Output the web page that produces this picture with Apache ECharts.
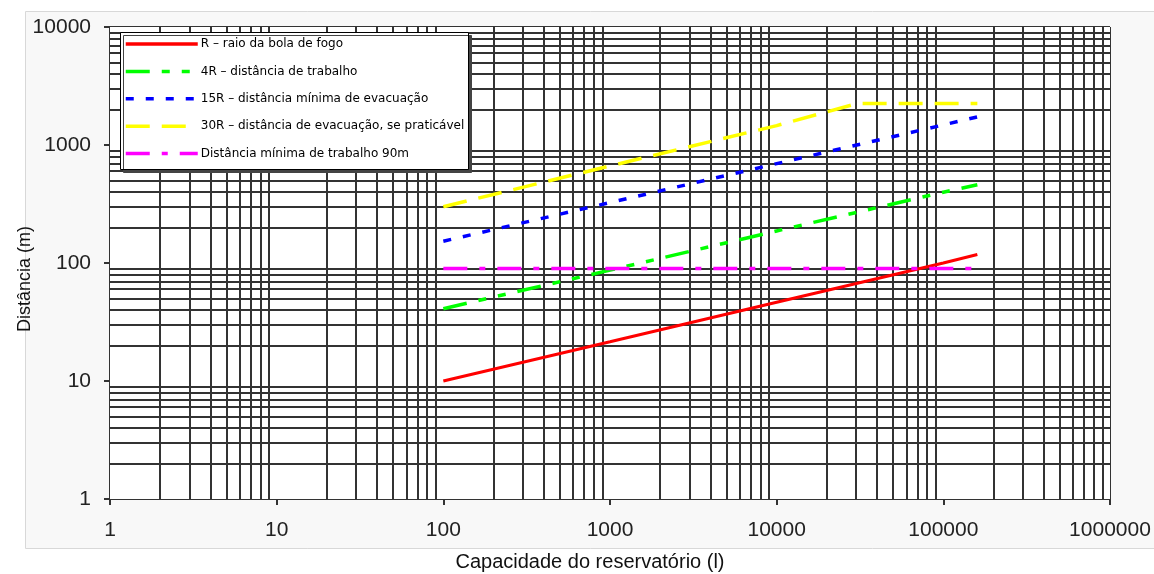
<!DOCTYPE html>
<html>
<head>
<meta charset="utf-8">
<script src="https://cdn.jsdelivr.net/npm/echarts@6/dist/echarts.min.js"></script>
<style>html,body{margin:0;padding:0;background:#fff}#c{width:1154px;height:574px}</style>
</head>
<body>
<div id="c"></div>
<script>
// ---- data ----
const capacidade = [100, 1000, 10000, 100000, 160000];        // litres
const raioR      = [10, 21.5, 46.5, 100, 118];                // R
const dist4R     = [41, 87, 187, 398, 460];                   // 4R
const dist15R    = [153, 325, 695, 1480, 1730];               // 15R
const cap30R     = [100, 1000, 10000, 30500, 160000];
const dist30R    = [300, 665, 1460, 2250, 2250];              // 30R (capped)
const dist90     = [90, 90, 90, 90, 90];                      // minimum 90 m

const seriesNames = [
  'R – raio da bola de fogo',
  '4R – distância de trabalho',
  '15R – distância mínima de evacuação',
  '30R – distância de evacuação, se praticável',
  'Distância mínima de trabalho 90m'
];
const xTickLabels = ['1','10','100','1000','10000','100000','1000000'];
const yTickLabels = ['1','10','100','1000','10000'];
const xMinorDecades = [1, 10, 100, 1000, 10000, 100000];
const yMinorDecades = [1, 10, 100, 1000];
const minorMult = [2, 3, 4, 5, 6, 7, 8, 9];

const pairs = (xs, ys) => xs.map((x, i) => [x, ys[i]]);

const minorX = [];
xMinorDecades.forEach(d => minorMult.forEach(m => minorX.push({ xAxis: d * m })));
const minorY = [];
yMinorDecades.forEach(d => minorMult.forEach(m => minorY.push({ yAxis: d * m })));

const chart = echarts.init(document.getElementById('c'), null, { renderer: 'canvas' });

const FONT = 'Liberation Sans, Arial, sans-serif';
const GRID_COLOR = '#333';
const GRID_W = 2;

chart.setOption({
  backgroundColor: '#ffffff',
  animation: false,
  grid: {
    left: 110, right: 44, top: 27, bottom: 75,
    show: true, backgroundColor: '#ffffff', borderWidth: 0, z: 1
  },
  graphic: [
    { type: 'rect', z: -100, silent: true,
      shape: { x: 25.5, y: 11.5, width: 1150, height: 537 },
      style: { fill: '#f8f8f8', stroke: '#d8d8d8', lineWidth: 1 } },
    { type: 'rect', z: 50, silent: true,
      shape: { x: 120.5, y: 32.5, width: 348, height: 137 },
      style: { fill: '#ffffff', stroke: '#000', lineWidth: 1,
               shadowColor: '#444', shadowOffsetX: 3, shadowOffsetY: 3, shadowBlur: 0 } },
    { type: 'text', z: 50, silent: true, x: 25, y: 279, rotation: Math.PI / 2,
      style: { text: 'Distância (m)', font: '18px ' + FONT, fill: '#111',
               textAlign: 'center', textVerticalAlign: 'middle' } },
    { type: 'text', z: 50, silent: true, x: 590, y: 562,
      style: { text: 'Capacidade do reservatório (l)', font: '20px ' + FONT, fill: '#111',
               textAlign: 'center', textVerticalAlign: 'middle' } }
  ],
  legend: {
    z: 60,
    orient: 'vertical',
    left: 124, top: 37,
    padding: 0,
    itemWidth: 72, itemHeight: 14, itemGap: 13.4,
    itemStyle: { opacity: 0 },
    lineStyle: { width: 3.5, cap: 'butt' },
    data: seriesNames,
    textStyle: { fontFamily: 'DejaVu Sans', fontSize: 12, color: '#000', padding: [0, 0, 0, -2],
                 lineHeight: 14, height: 14 }
  },
  xAxis: {
    type: 'log', logBase: 10, min: 1, max: 1000000,
    axisLine: { show: true, lineStyle: { color: GRID_COLOR, width: GRID_W } },
    axisTick: { show: true, length: 6, inside: false, lineStyle: { color: GRID_COLOR, width: GRID_W } },
    axisLabel: {
      margin: 21, color: '#222', fontFamily: FONT, fontSize: 21,
      formatter: v => xTickLabels[Math.round(Math.log10(v))] || String(Math.round(v))
    },
    splitLine: { show: true, lineStyle: { color: GRID_COLOR, width: GRID_W } },
    minorTick: { show: false }, minorSplitLine: { show: false }
  },
  yAxis: {
    type: 'log', logBase: 10, min: 1, max: 10000,
    axisLine: { show: true, lineStyle: { color: GRID_COLOR, width: GRID_W } },
    axisTick: { show: true, length: 6, inside: false, lineStyle: { color: GRID_COLOR, width: GRID_W } },
    axisLabel: {
      margin: 19, color: '#222', fontFamily: FONT, fontSize: 21,
      formatter: v => yTickLabels[Math.round(Math.log10(v))] || String(Math.round(v))
    },
    splitLine: { show: true, lineStyle: { color: GRID_COLOR, width: GRID_W } },
    minorTick: { show: false }, minorSplitLine: { show: false }
  },
  series: [
    {
      name: '__grid', type: 'line', data: [], z: 1, silent: true,
      markLine: {
        silent: true, symbol: ['none', 'none'], animation: false,
        label: { show: false },
        lineStyle: { color: GRID_COLOR, width: GRID_W, type: 'solid' },
        emphasis: { disabled: true },
        data: minorX.concat(minorY)
      }
    },
    {
      name: seriesNames[0], type: 'line', data: pairs(capacidade, raioR), z: 5,
      symbol: 'none', color: '#ff0000',
      lineStyle: { color: '#ff0000', width: 3, type: 'solid' }
    },
    {
      name: seriesNames[1], type: 'line', data: pairs(capacidade, dist4R), z: 5,
      symbol: 'none', color: '#00ff00',
      lineStyle: { color: '#00ff00', width: 3.5, type: [24, 12, 8, 12, 8, 12], cap: 'butt' }
    },
    {
      name: seriesNames[2], type: 'line', data: pairs(capacidade, dist15R), z: 5,
      symbol: 'none', color: '#0000ff',
      lineStyle: { color: '#0000ff', width: 3.5, type: [8, 12], cap: 'butt' }
    },
    {
      name: seriesNames[3], type: 'line', data: pairs(cap30R, dist30R), z: 5,
      symbol: 'none', color: '#ffff00',
      lineStyle: { color: '#ffff00', width: 3.5, type: [24, 12], cap: 'butt' }
    },
    {
      name: seriesNames[4], type: 'line', data: pairs(capacidade, dist90), z: 5,
      symbol: 'none', color: '#ff00ff',
      lineStyle: { color: '#ff00ff', width: 3.5, type: [24, 12, 6, 12], cap: 'butt' }
    }
  ]
});
</script>
</body>
</html>
